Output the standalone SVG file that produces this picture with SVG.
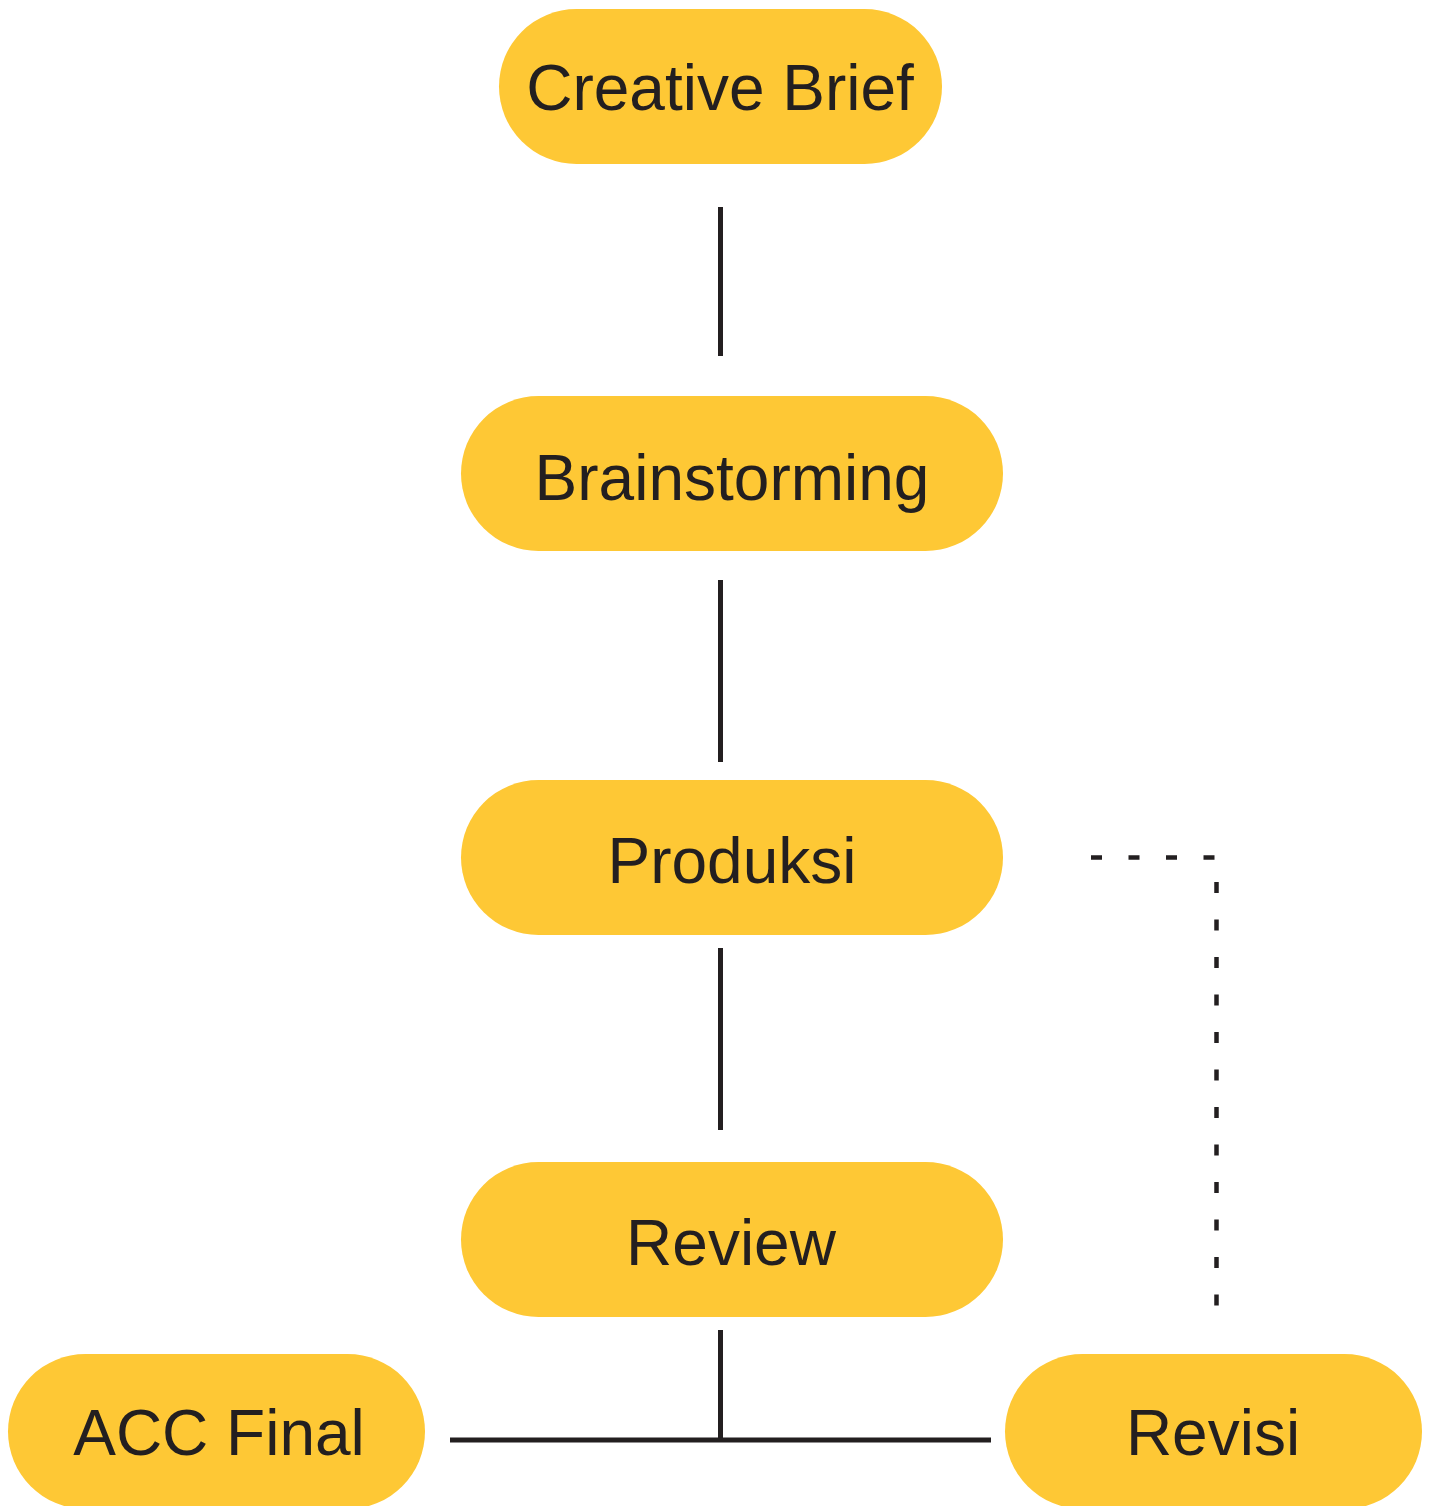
<svg xmlns="http://www.w3.org/2000/svg" width="1431" height="1506" viewBox="0 0 1431 1506">
<style>
.node rect{fill:#FEC835}
.node text{font-family:"Liberation Sans",Arial,sans-serif;font-size:64px;fill:#231F20;text-anchor:middle}
.conn{stroke:#231F20;stroke-width:5;fill:none}
.dot{stroke:#231F20;stroke-width:4.5;fill:none;stroke-dasharray:11 26.5}
</style>
<rect width="1431" height="1506" fill="#fff"/>
<g id="connectors">
<line class="conn" x1="720.5" y1="207" x2="720.5" y2="356"/>
<line class="conn" x1="720.5" y1="580" x2="720.5" y2="762"/>
<line class="conn" x1="720.5" y1="948" x2="720.5" y2="1130"/>
<line class="conn" x1="720.5" y1="1330" x2="720.5" y2="1440"/>
<line class="conn" x1="450" y1="1440" x2="991" y2="1440"/>
<path class="dot" d="M1091 857.5 H1216.5 V1306"/>
</g>
<g id="creative-brief" class="node">
<rect x="499" y="9" width="443" height="155" rx="77.5"/>
<text x="720" y="110">Creative Brief</text>
</g>
<g id="brainstorming" class="node">
<rect x="461" y="396" width="542" height="155" rx="77.5"/>
<text x="732" y="500">Brainstorming</text>
</g>
<g id="produksi" class="node">
<rect x="461" y="780" width="542" height="155" rx="77.5"/>
<text x="732" y="883">Produksi</text>
</g>
<g id="review" class="node">
<rect x="461" y="1162" width="542" height="155" rx="77.5"/>
<text x="731" y="1265">Review</text>
</g>
<g id="acc-final" class="node">
<rect x="8" y="1354" width="417" height="155" rx="77.5"/>
<text x="219" y="1455">ACC Final</text>
</g>
<g id="revisi" class="node">
<rect x="1005" y="1354" width="417" height="155" rx="77.5"/>
<text x="1213" y="1455">Revisi</text>
</g>
</svg>
